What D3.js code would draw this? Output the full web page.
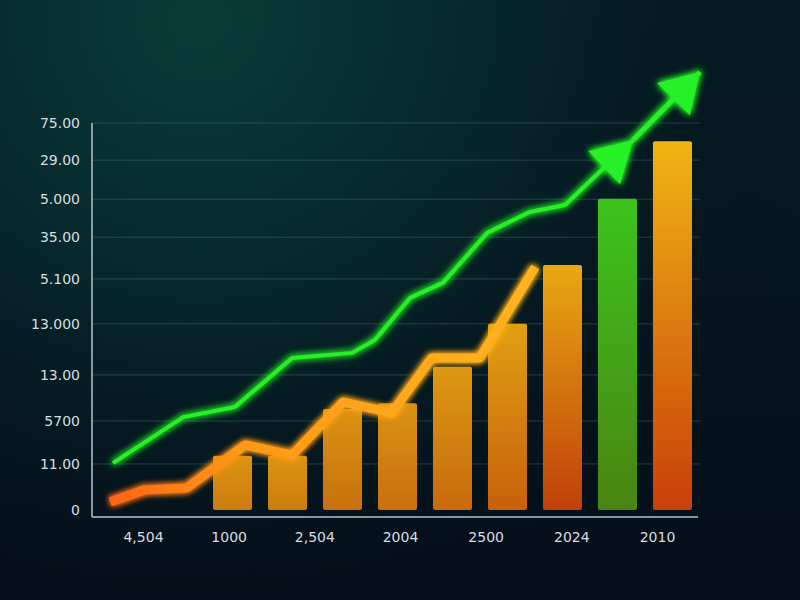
<!DOCTYPE html>
<html>
<head>
<meta charset="utf-8">
<script src="https://cdn.jsdelivr.net/npm/d3@7"></script>
<style>
  html, body { margin: 0; padding: 0; background: #04101a; }
  svg { display: block; }
</style>
</head>
<body>
<svg id="chart" width="800" height="600"></svg>
<script>
// ---------- DATA ----------
const yTickValues = [0, 11.9, 23.0, 34.9, 48.1, 59.7, 70.5, 80.3, 90.4, 100];
const yTickLabels = ["0", "11.00", "5700", "13.00", "13.000", "5.100", "35.00", "5.000", "29.00", "75.00"];
const xLabels = ["4,504", "1000", "2,504", "2004", "2500", "2024", "2010"];

const barValues = [14.0, 14.0, 26.1, 27.6, 37.0, 48.1, 63.3, 80.4, 95.3];

// line series: [x position (0-100 along plot), value]
const orangeX = [3.0, 8.7, 15.6, 25.2, 32.9, 41.3, 49.3, 55.9, 63.8, 72.9];
const orangeY = [2.1, 5.2, 5.7, 16.8, 14.2, 27.9, 25.1, 39.3, 39.3, 62.8];

const greenX = [3.45, 15.0, 23.5, 32.9, 42.8, 46.5, 52.3, 57.7, 65.0, 72.0, 77.8, 89.0];
const greenY = [12.1, 24.0, 26.6, 39.3, 40.6, 43.9, 54.8, 58.7, 71.6, 77.0, 78.8, 95.6];

const green2X = [89.0, 100.0];
const green2Y = [95.6, 113.2];

// ---------- STYLE ----------
const barColors = [
  ["#dc9412", "#cc7c10"], ["#dc9412", "#cc7c10"],
  ["#da9212", "#c8700e"], ["#da9212", "#c8700e"],
  ["#dc9812", "#c86a0e"], ["#e0a012", "#c8600c"],
  ["#e8a812", "#c0400a"], ["#3cc41c", "#4a8412"],
  ["#f0b414", "#c8400a"]
];

(function () {
const svg = d3.select("#chart");
const W = 800, H = 600;
const defs = svg.append("defs");

// background
const bgLin = defs.append("linearGradient").attr("id", "bgLin")
  .attr("x1", 0).attr("y1", 0).attr("x2", 0).attr("y2", 1);
bgLin.append("stop").attr("offset", 0).attr("stop-color", "#061c24");
bgLin.append("stop").attr("offset", 1).attr("stop-color", "#040e18");
const bgRad = defs.append("radialGradient").attr("id", "bgRad")
  .attr("gradientUnits", "userSpaceOnUse")
  .attr("cx", 200).attr("cy", 20).attr("r", 640);
bgRad.append("stop").attr("offset", 0).attr("stop-color", "#0a3d38").attr("stop-opacity", 1);
bgRad.append("stop").attr("offset", 0.45).attr("stop-color", "#072a2e").attr("stop-opacity", 0.8);
bgRad.append("stop").attr("offset", 1).attr("stop-color", "#040e18").attr("stop-opacity", 0);
svg.append("rect").attr("width", W).attr("height", H).attr("fill", "url(#bgLin)");
svg.append("rect").attr("width", W).attr("height", H).attr("fill", "url(#bgRad)");

// glow filters
function glow(id, std) {
  const f = defs.append("filter").attr("id", id)
    .attr("x", "-20%").attr("y", "-20%").attr("width", "140%").attr("height", "140%");
  f.append("feGaussianBlur").attr("in", "SourceGraphic").attr("stdDeviation", std).attr("result", "b");
  const m = f.append("feMerge");
  m.append("feMergeNode").attr("in", "b");
  m.append("feMergeNode").attr("in", "b");
  m.append("feMergeNode").attr("in", "SourceGraphic");
}
glow("glowG", 3.5);
glow("glowO", 3);

// ---------- SCALES ----------
const pLeft = 92, pRight = 700, pTop = 123, pBase = 510;
const y = d3.scaleLinear().domain([0, 100]).range([pBase, pTop]);
const xLin = d3.scaleLinear().domain([0, 100]).range([pLeft, pRight]);
const xBand = d3.scaleBand().domain(d3.range(barValues.length))
  .range([213, 692]).paddingInner(0.29).paddingOuter(0);
const xPoint = d3.scalePoint().domain(xLabels).range([143, 657]);

// gridlines
svg.append("g").selectAll("line")
  .data(yTickValues.filter(v => v > 0))
  .join("line")
  .attr("x1", pLeft).attr("x2", pRight)
  .attr("y1", d => y(d)).attr("y2", d => y(d))
  .attr("stroke", "#6c9a9c").attr("stroke-opacity", 0.3).attr("stroke-width", 1);

// y axis labels
const yAxis = d3.axisLeft(y).tickValues(yTickValues)
  .tickFormat((d, i) => yTickLabels[i]).tickSize(0).tickPadding(12);
const gy = svg.append("g").attr("transform", `translate(${pLeft},0)`).call(yAxis);
gy.select(".domain").remove();
gy.selectAll("text").attr("fill", "#d6dee2").attr("font-size", 14)
  .attr("font-family", "'DejaVu Sans', sans-serif");

// x axis labels
const xAxis = d3.axisBottom(xPoint).tickSize(0).tickPadding(0);
const gx = svg.append("g").attr("transform", `translate(0,${pBase + 22})`).call(xAxis);
gx.select(".domain").remove();
gx.selectAll("text").attr("fill", "#d6dee2").attr("font-size", 14)
  .attr("font-family", "'DejaVu Sans', sans-serif");

// bar gradients
barColors.forEach((c, i) => {
  const g = defs.append("linearGradient").attr("id", "bar" + i)
    .attr("x1", 0).attr("y1", 0).attr("x2", 0).attr("y2", 1);
  g.append("stop").attr("offset", 0).attr("stop-color", c[0]);
  g.append("stop").attr("offset", 1).attr("stop-color", c[1]);
});

// bars
svg.append("g").selectAll("rect")
  .data(barValues)
  .join("rect")
  .attr("x", (d, i) => xBand(i))
  .attr("width", xBand.bandwidth())
  .attr("y", d => y(d))
  .attr("height", d => y(0) - y(d))
  .attr("rx", 2)
  .attr("fill", (d, i) => `url(#bar${i})`);

// axis lines
svg.append("line").attr("x1", pLeft).attr("x2", pLeft).attr("y1", pTop).attr("y2", pBase + 7)
  .attr("stroke", "#b4c4c8").attr("stroke-width", 1.5);
svg.append("line").attr("x1", pLeft).attr("x2", 698).attr("y1", pBase + 7).attr("y2", pBase + 7)
  .attr("stroke", "#b4c4c8").attr("stroke-width", 1.5);

const line = d3.line().x(d => xLin(d[0])).y(d => y(d[1]));

// orange line
const oGrad = defs.append("linearGradient").attr("id", "oGrad")
  .attr("gradientUnits", "userSpaceOnUse")
  .attr("x1", xLin(orangeX[0])).attr("x2", xLin(orangeX[orangeX.length - 1]))
  .attr("y1", 0).attr("y2", 0);
oGrad.append("stop").attr("offset", 0).attr("stop-color", "#ff6412");
oGrad.append("stop").attr("offset", 0.3).attr("stop-color", "#ff9818");
oGrad.append("stop").attr("offset", 1).attr("stop-color", "#ffb41e");
const orangePts = orangeX.map((x, i) => [x, orangeY[i]]);
svg.append("path").datum(orangePts)
  .attr("d", line)
  .attr("fill", "none").attr("stroke", "url(#oGrad)")
  .attr("stroke-width", 9).attr("stroke-linejoin", "round").attr("stroke-linecap", "butt")
  .attr("filter", "url(#glowO)");

// green line with arrows
const gColor = "#26f026";
const gG = svg.append("g").attr("filter", "url(#glowG)");
function arrowHead(pts, len, halfW) {
  const n = pts.length;
  const x1 = xLin(pts[n - 2][0]), y1 = y(pts[n - 2][1]);
  const x2 = xLin(pts[n - 1][0]), y2 = y(pts[n - 1][1]);
  const a = Math.atan2(y2 - y1, x2 - x1);
  const bx = x2 - len * Math.cos(a), by = y2 - len * Math.sin(a);
  const px = -Math.sin(a) * halfW, py = Math.cos(a) * halfW;
  return `M${x2},${y2}L${bx + px},${by + py}L${bx - px},${by - py}Z`;
}
const greenPts = greenX.map((x, i) => [x, greenY[i]]);
const green2Pts = green2X.map((x, i) => [x, green2Y[i]]);
gG.append("path").datum(greenPts)
  .attr("d", line).attr("fill", "none").attr("stroke", gColor)
  .attr("stroke-width", 4).attr("stroke-linejoin", "round");
gG.append("path").datum(green2Pts)
  .attr("d", line).attr("fill", "none").attr("stroke", gColor)
  .attr("stroke-width", 5).attr("stroke-linejoin", "round");
gG.append("path").attr("d", arrowHead(greenPts, 40, 23)).attr("fill", gColor);
gG.append("path").attr("d", arrowHead(green2Pts, 38, 23)).attr("fill", gColor);
})();
</script>
</body>
</html>
